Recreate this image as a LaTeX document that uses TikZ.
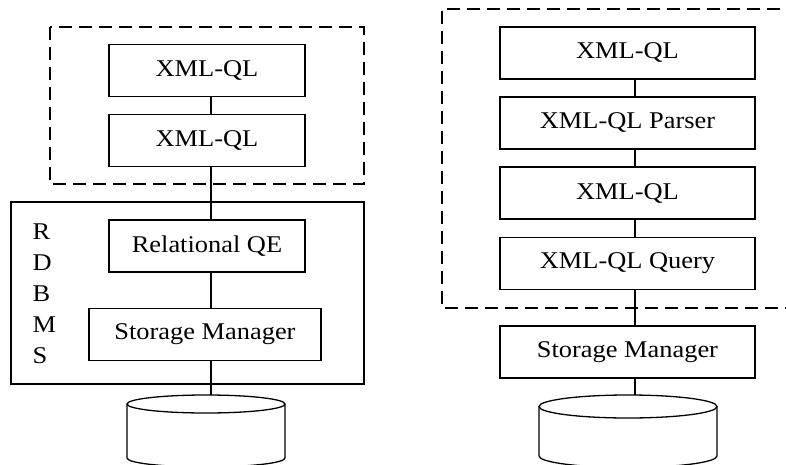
\documentclass[tikz,border=0pt]{standalone}
\usepackage{fontspec}
\setmainfont{Liberation Serif}[FakeStretch=1.1]
\usepackage{tikz}

\begin{document}
\begin{tikzpicture}[x=1pt,y=-1pt,line width=1.3pt,font=\fontsize{24}{31}\selectfont]
\useasboundingbox (0,0) rectangle (786,465);
\clip (0,0) rectangle (786,465);
\tikzset{dashbox/.style={line width=1.3pt,dash pattern=on 13pt off 7pt}}

\begin{scope}[every node/.style={rectangle,draw,line width=1.3pt,minimum height=52pt,inner sep=0pt}]
\node[minimum width=196pt] (lx1) at (207,70.5) {XML-QL};
\node[minimum width=196pt] (lx2) at (207,140.5) {XML-QL};
\node[minimum width=196pt] (lqe) at (207,246) {Relational QE};
\node[minimum width=232pt] (lsm) at (205,334.5) {Storage Manager};

\node[minimum width=255pt] (rx1) at (627.5,53) {XML-QL};
\node[minimum width=255pt] (rx2) at (627.5,123) {XML-QL Parser};
\node[minimum width=255pt] (rx3) at (627.5,193) {XML-QL};
\node[minimum width=255pt] (rx4) at (627.5,263.5) {XML-QL Query};
\node[minimum width=255pt] (rsm) at (627.5,352) {Storage Manager};
\end{scope}

% groups
\draw[dashbox] (50,27) rectangle (364,184);
\draw (11,202) rectangle (364,384);
\node[align=left,anchor=north west,inner sep=0pt] (rdbms) at (32,223) {R\\D\\B\\M\\S};
\draw[dashbox] (800,9) -- (442,9) -- (442,308) -- (800,308);

% disks
\draw (127,404) -- (127,458) arc[start angle=180,end angle=360,x radius=79pt,y radius=9pt] -- (285,404);
\draw (206,404) ellipse [x radius=79pt,y radius=9pt];
\draw (539,406.5) -- (539,456) arc[start angle=180,end angle=360,x radius=89pt,y radius=11.5pt] -- (717,406.5);
\draw (628,406.5) ellipse [x radius=89pt,y radius=11.5pt];

\coordinate (lspine) at (211,0);
\coordinate (rspine) at (635,0);
\coordinate (ldisk) at (211,395);
\coordinate (rdisk) at (635,395);

\draw (lx1.south -| lspine) -- (lx2.north -| lspine);
\draw (lx2.south -| lspine) -- (lqe.north -| lspine);
\draw (lqe.south -| lspine) -- (lsm.north -| lspine);
\draw (lsm.south -| lspine) -- (ldisk);

\draw (rx1.south -| rspine) -- (rx2.north -| rspine);
\draw (rx2.south -| rspine) -- (rx3.north -| rspine);
\draw (rx3.south -| rspine) -- (rx4.north -| rspine);
\draw (rx4.south -| rspine) -- (rsm.north -| rspine);
\draw (rsm.south -| rspine) -- (rdisk);
\end{tikzpicture}
\end{document}
